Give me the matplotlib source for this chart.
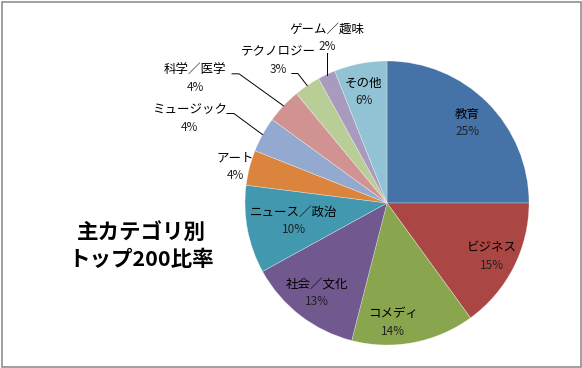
import matplotlib
matplotlib.use("Agg")
import matplotlib.pyplot as plt
import numpy as np
from matplotlib.patches import Rectangle

plt.rcParams['font.family'] = ['Noto Sans CJK JP', 'DejaVu Sans']

# ---- data ----
categories = ["教育", "ビジネス", "コメディ", "社会／文化", "ニュース／政治",
              "アート", "ミュージック", "科学／医学", "テクノロジー", "ゲーム／趣味", "その他"]
shares = [25, 15, 14, 13, 10, 4, 4, 4, 3, 2, 6]
colors = ["#4572A7", "#AA4643", "#89A54E", "#71588F", "#4198AF",
          "#DB843D", "#93A9CF", "#D19392", "#B9CD96", "#A99BBD", "#92C3D5"]
title_text = "主カテゴリ別\nトップ200比率"

# ---- layout (label placement: radius factor, angle nudge in degrees, leader line) ----
label_r = [0.80, 0.83, 0.84, 0.80, 0.67, 1.10, 1.51, 1.61, 1.26, 1.24, 0.80]
label_da = [0, 0, -8, 0, 0, 1, 5.6, 10.3, 3, -5.3, 1]
leader = [None, None, None, None, None, None, "h", "h", "h2", "v", None]

W, H = 582, 368
cx, cy, R = 387, 203, 142

fig = plt.figure(figsize=(W / 100, H / 100), dpi=100)
ax = fig.add_axes([0, 0, 1, 1])

wedges, _ = ax.pie(shares, colors=colors, startangle=90, counterclock=False,
                   radius=1.0, center=(0, 0), frame=True,
                   wedgeprops=dict(linewidth=0.4, edgecolor=(1, 1, 1, 0.5)))
ax.set_xlim(-cx / R, (W - cx) / R)
ax.set_ylim(-(H - cy) / R, cy / R)
ax.axis('off')

px = 1.0 / R
fs = 9
for i, w in enumerate(wedges):
    mid = 0.5 * (w.theta1 + w.theta2)
    a = np.deg2rad(mid + label_da[i])
    lx, ly = label_r[i] * np.cos(a), label_r[i] * np.sin(a)
    ax.text(lx, ly + 8.5 * px, categories[i], ha='center', va='center', fontsize=fs, color='black')
    ax.text(lx, ly - 9 * px, f"{shares[i]}%", ha='center', va='center', fontsize=fs - 0.5, color='#222222')
    am = np.deg2rad(mid)
    ex, ey = np.cos(am), np.sin(am)
    if leader[i] == "h":
        hx0 = lx + 37 * px
        hy = ly + 5 * px
        ax.plot([hx0, hx0 + 7 * px, ex], [hy, hy, ey], color='black', lw=0.7)
    elif leader[i] == "h2":
        hx0 = lx + 13 * px
        hy = ly - 13 * px
        ax.plot([hx0, hx0 + 6 * px, ex], [hy, hy, ey], color='black', lw=0.7)
    elif leader[i] == "v":
        ax.plot([ex, ex], [ly - 16 * px, ey], color='black', lw=0.7)

ax.text(-(cx - 141) * px, (cy - 246) * px, title_text, ha='center', va='center',
        fontsize=15.5, fontweight='bold', color='black', linespacing=1.35)

fig.patches.append(Rectangle((1.5 / W, 1.5 / H), 579 / W, 365 / H,
                             transform=fig.transFigure, fill=False,
                             edgecolor='#868686', linewidth=1.1))

fig.savefig("out.png", dpi=100)
